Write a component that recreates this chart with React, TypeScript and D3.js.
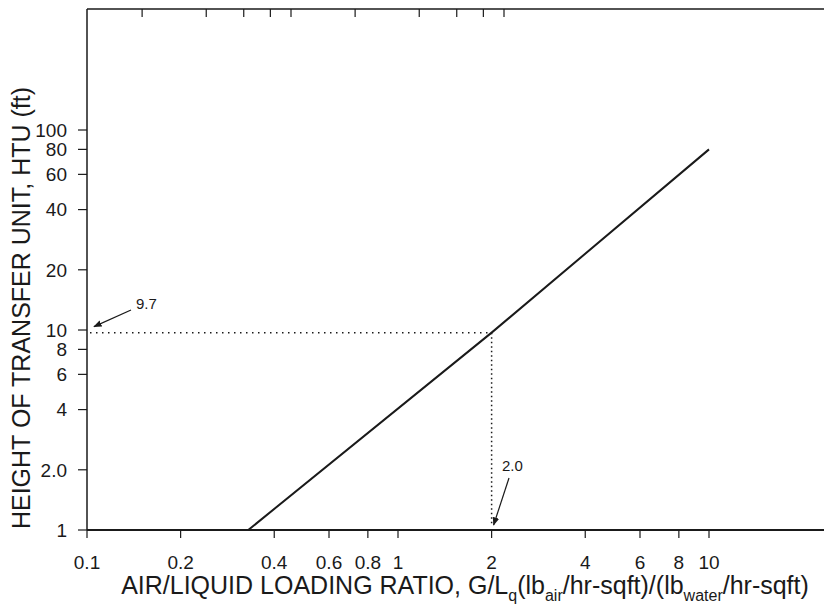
import React, { useEffect, useRef } from 'react';
import * as d3 from 'd3';

// HTU vs air/liquid loading ratio (log-log)

const xTicks = [0.1, 0.2, 0.4, 0.6, 0.8, 1, 2, 4, 6, 8, 10];
const xTickLabels = ['0.1', '0.2', '0.4', '0.6', '0.8', '1', '2', '4', '6', '8', '10'];
const yTicks = [1, 2, 4, 6, 8, 10, 20, 40, 60, 80, 100];
const yTickLabels = ['1', '2.0', '4', '6', '8', '10', '20', '40', '60', '80', '100'];
// the top frame carries a stray copy of the y tick pattern
const topTicks = [2, 4, 6, 8, 10, 20, 40, 60, 80, 100];

const lineX = [0.33, 2, 10];
const lineY = [1, 9.7, 80];

const readX = 2.0;
const readY = 9.7;

const App = () => {
  const svgRef = useRef(null);

  useEffect(() => {
    const width = 824;
    const svg = d3.select(svgRef.current);
    svg.selectAll('*').remove();

    const font = '"Liberation Sans", Arial, sans-serif';
    const ink = '#1a1a1a';

    const x = d3.scaleLog().domain([0.1, 10]).range([87, 709]);
    const y = d3.scaleLog().domain([1, 100]).range([530, 130]);
    const xTop = d3.scaleLog().domain([1, 100]).range([78, 504]);

    const top = 9;

    // frame: left, bottom, top
    svg.append('line')
      .attr('x1', x(0.1)).attr('x2', x(0.1))
      .attr('y1', top).attr('y2', y(1))
      .attr('stroke', ink).attr('stroke-width', 1.5);
    svg.append('line')
      .attr('x1', x(0.1)).attr('x2', width)
      .attr('y1', y(1)).attr('y2', y(1))
      .attr('stroke', ink).attr('stroke-width', 2);
    svg.append('line')
      .attr('x1', x(0.1)).attr('x2', width)
      .attr('y1', top).attr('y2', top)
      .attr('stroke', ink).attr('stroke-width', 1.5);

    // top ticks (inward)
    svg.append('g')
      .selectAll('line')
      .data(topTicks)
      .enter()
      .append('line')
      .attr('x1', d => xTop(d)).attr('x2', d => xTop(d))
      .attr('y1', top).attr('y2', top + 8)
      .attr('stroke', ink).attr('stroke-width', 1.2);

    // x ticks and labels
    const gx = svg.append('g');
    gx.selectAll('line')
      .data(xTicks)
      .enter()
      .append('line')
      .attr('x1', d => x(d)).attr('x2', d => x(d))
      .attr('y1', y(1)).attr('y2', y(1) + 8)
      .attr('stroke', ink).attr('stroke-width', 1.2);
    gx.selectAll('text')
      .data(xTicks)
      .enter()
      .append('text')
      .attr('x', d => x(d))
      .attr('y', 569)
      .attr('text-anchor', 'middle')
      .attr('font-family', font)
      .attr('font-size', 19)
      .attr('fill', ink)
      .text((d, i) => xTickLabels[i]);

    // y ticks and labels
    const gy = svg.append('g');
    gy.selectAll('line')
      .data(yTicks)
      .enter()
      .append('line')
      .attr('x1', x(0.1) - 9).attr('x2', x(0.1))
      .attr('y1', d => y(d)).attr('y2', d => y(d))
      .attr('stroke', ink).attr('stroke-width', 1.2);
    gy.selectAll('text')
      .data(yTicks)
      .enter()
      .append('text')
      .attr('x', 67)
      .attr('y', d => y(d))
      .attr('dy', '0.36em')
      .attr('text-anchor', 'end')
      .attr('font-family', font)
      .attr('font-size', 19)
      .attr('fill', ink)
      .text((d, i) => yTickLabels[i]);

    // main line
    const pts = lineX.map((v, i) => [v, lineY[i]]);
    svg.append('path')
      .datum(pts)
      .attr('fill', 'none')
      .attr('stroke', ink)
      .attr('stroke-width', 2)
      .attr('d', d3.line().x(d => x(d[0])).y(d => y(d[1])));

    // dotted read-off lines
    svg.append('line')
      .attr('x1', x(0.1) + 3).attr('x2', x(readX))
      .attr('y1', y(readY)).attr('y2', y(readY))
      .attr('stroke', ink).attr('stroke-width', 1.5)
      .attr('stroke-dasharray', '1.5,4.5');
    svg.append('line')
      .attr('x1', x(readX)).attr('x2', x(readX))
      .attr('y1', y(readY)).attr('y2', y(1) - 4)
      .attr('stroke', ink).attr('stroke-width', 1.5)
      .attr('stroke-dasharray', '1.5,3');

    // arrow heads
    const defs = svg.append('defs');
    defs.append('marker')
      .attr('id', 'arrow')
      .attr('viewBox', '0 0 10 10')
      .attr('refX', 9).attr('refY', 5)
      .attr('markerWidth', 7).attr('markerHeight', 7)
      .attr('orient', 'auto')
      .append('path')
      .attr('d', 'M0,1 L10,5 L0,9 Z')
      .attr('fill', ink);

    // 9.7 callout
    svg.append('line')
      .attr('x1', 131).attr('x2', x(0.1) + 7)
      .attr('y1', 310).attr('y2', y(readY) - 6)
      .attr('stroke', ink).attr('stroke-width', 1.2)
      .attr('marker-end', 'url(#arrow)');
    svg.append('text')
      .attr('x', 136).attr('y', 309)
      .attr('font-family', font).attr('font-size', 15)
      .attr('fill', ink)
      .text('9.7');

    // 2.0 callout
    svg.append('line')
      .attr('x1', 509).attr('x2', x(readX) + 2)
      .attr('y1', 478).attr('y2', y(1) - 5)
      .attr('stroke', ink).attr('stroke-width', 1.2)
      .attr('marker-end', 'url(#arrow)');
    svg.append('text')
      .attr('x', 502).attr('y', 471)
      .attr('font-family', font).attr('font-size', 15)
      .attr('fill', ink)
      .text('2.0');

    // axis titles
    svg.append('text')
      .attr('transform', `translate(30, 308) rotate(-90)`)
      .attr('text-anchor', 'middle')
      .attr('font-family', font)
      .attr('font-size', 25)
      .attr('fill', ink)
      .text('HEIGHT OF TRANSFER UNIT, HTU (ft)');

    const xt = svg.append('text')
      .attr('x', 465).attr('y', 594)
      .attr('text-anchor', 'middle')
      .attr('font-family', font)
      .attr('font-size', 25)
      .attr('fill', ink);
    const parts = [
      ['AIR/LIQUID LOADING RATIO, G/L', false],
      ['q', true],
      ['(lb', false],
      ['air', true],
      ['/hr-sqft)/(lb', false],
      ['water', true],
      ['/hr-sqft)', false],
    ];
    let sub = false;
    parts.forEach(([t, isSub]) => {
      const ts = xt.append('tspan').text(t);
      if (isSub) ts.attr('font-size', 16);
      if (isSub && !sub) ts.attr('dy', 7);
      if (!isSub && sub) ts.attr('dy', -7);
      sub = isSub;
    });
  }, []);

  return (
    <svg
      ref={svgRef}
      width="824"
      height="608"
      style={{ position: 'absolute', left: 0, top: 0, background: '#fff' }}
    />
  );
};

export default App;
